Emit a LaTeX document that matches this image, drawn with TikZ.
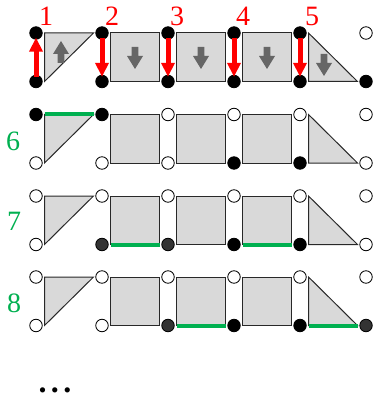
\documentclass[tikz,border=0pt]{standalone}
\usepackage{fontspec}
\setmainfont{Liberation Serif}
\newfontfamily\lblfont{Liberation Serif}
\usetikzlibrary{arrows.meta}
\definecolor{shapefill}{RGB}{217,217,217}
\definecolor{shapeline}{RGB}{40,40,40}
\definecolor{arrowgray}{RGB}{102,102,102}
\definecolor{lblred}{RGB}{255,0,0}
\definecolor{lblgreen}{RGB}{0,176,80}
\definecolor{dotgray}{RGB}{51,51,51}
\tikzset{
  dotb/.style={circle,draw=black,line width=0.8pt,fill=black,minimum size=12.5pt,inner sep=0pt},
  dotw/.style={circle,draw=black,line width=0.8pt,fill=white,minimum size=12.5pt,inner sep=0pt},
  dotg/.style={circle,draw=black,line width=0.8pt,fill=dotgray,minimum size=12.5pt,inner sep=0pt},
  piece/.style={draw=shapeline,line width=1pt,fill=shapefill},
  redarr/.style={draw=lblred,line width=5pt,-{Triangle[length=14pt,width=13pt]},shorten >=-2pt,shorten <=-2pt},
  greenseg/.style={draw=lblgreen,line width=4pt},
  redlbl/.style={text=lblred,font=\lblfont\fontsize{28}{28}\selectfont,inner sep=0pt},
  greenlbl/.style={text=lblgreen,font=\lblfont\fontsize{28}{28}\selectfont,inner sep=0pt},
  graydown/.pic={\fill[arrowgray] (-3.3,0) -- (3.3,0) -- (3.3,9) -- (8,9) -- (0,22) -- (-8,9) -- (-3.3,9) -- cycle;}
}
\begin{document}
\begin{tikzpicture}[x=1pt,y=-1pt]
\useasboundingbox (0,0) rectangle (374,398);
% ---------- shapes ----------
\foreach \t in {33,114.5,196,277}{
  \pgfmathsetmacro{\b}{\t+48.5}
  \filldraw[piece] (44.5,\t) -- (93.5,\t) -- (44.5,\b) -- cycle;
  \filldraw[piece] (110.5,\t) rectangle (159.5,\b);
  \filldraw[piece] (176.5,\t) rectangle (225.5,\b);
  \filldraw[piece] (242.5,\t) rectangle (291.5,\b);
  \filldraw[piece] (308.5,\t) -- (308.5,\b) -- (357.5,\b) -- cycle;
}
% ---------- gray arrows in row 1 ----------
\pic[rotate=180] at (61,63) {graydown};
\pic at (135,47) {graydown};
\pic at (201,47) {graydown};
\pic at (267,47) {graydown};
\pic at (324,54) {graydown};
% ---------- green segments ----------
\draw[greenseg] (44.5,114.5) -- (93.5,114.5);
\draw[greenseg] (110.5,245) -- (159.5,245);
\draw[greenseg] (242.5,245) -- (291.5,245);
\draw[greenseg] (176.5,325.5) -- (225.5,325.5);
\draw[greenseg] (308.5,325.5) -- (357.5,325.5);
% ---------- row 1 dots ----------
\node[dotb] (a1t) at (36,33) {};   \node[dotb] (a1b) at (36,81.5) {};
\node[dotb] (a2t) at (102,33) {};  \node[dotb] (a2b) at (102,81.5) {};
\node[dotb] (a3t) at (168,33) {};  \node[dotb] (a3b) at (168,81.5) {};
\node[dotb] (a4t) at (234,33) {};  \node[dotb] (a4b) at (234,81.5) {};
\node[dotb] (a5t) at (300,33) {};  \node[dotb] (a5b) at (300,81.5) {};
\node[dotw] (a6t) at (366,33) {};  \node[dotb] (a6b) at (366,81.5) {};
% ---------- row 6 dots ----------
\node[dotb] (b1t) at (36,114.5) {};  \node[dotw] (b1b) at (36,163) {};
\node[dotb] (b2t) at (102,114.5) {}; \node[dotw] (b2b) at (102,163) {};
\node[dotw] (b3t) at (168,114.5) {}; \node[dotw] (b3b) at (168,163) {};
\node[dotw] (b4t) at (234,114.5) {}; \node[dotb] (b4b) at (234,163) {};
\node[dotw] (b5t) at (300,114.5) {}; \node[dotb] (b5b) at (300,163) {};
\node[dotw] (b6t) at (366,114.5) {}; \node[dotw] (b6b) at (366,163) {};
% ---------- row 7 dots ----------
\node[dotw] (c1t) at (36,196) {};  \node[dotw] (c1b) at (36,244.5) {};
\node[dotw] (c2t) at (102,196) {}; \node[dotg] (c2b) at (102,244.5) {};
\node[dotw] (c3t) at (168,196) {}; \node[dotg] (c3b) at (168,244.5) {};
\node[dotw] (c4t) at (234,196) {}; \node[dotb] (c4b) at (234,244.5) {};
\node[dotw] (c5t) at (300,196) {}; \node[dotb] (c5b) at (300,244.5) {};
\node[dotw] (c6t) at (366,196) {}; \node[dotw] (c6b) at (366,244.5) {};
% ---------- row 8 dots ----------
\node[dotw] (d1t) at (36,277) {};  \node[dotw] (d1b) at (36,325.5) {};
\node[dotw] (d2t) at (102,277) {}; \node[dotw] (d2b) at (102,325.5) {};
\node[dotw] (d3t) at (168,277) {}; \node[dotg] (d3b) at (168,325.5) {};
\node[dotw] (d4t) at (234,277) {}; \node[dotb] (d4b) at (234,325.5) {};
\node[dotw] (d5t) at (300,277) {}; \node[dotb] (d5b) at (300,325.5) {};
\node[dotw] (d6t) at (366,277) {}; \node[dotg] (d6b) at (366,325.5) {};
% ---------- red arrows ----------
\draw[redarr] (a1b) -- (a1t);
\draw[redarr] (a2t) -- (a2b);
\draw[redarr] (a3t) -- (a3b);
\draw[redarr] (a4t) -- (a4b);
\draw[redarr] (a5t) -- (a5b);
% ---------- labels ----------
\node[redlbl] (l1) at (46,16) {1};
\node[redlbl] (l2) at (112,16) {2};
\node[redlbl] (l3) at (177,16) {3};
\node[redlbl] (l4) at (243,16) {4};
\node[redlbl] (l5) at (312,16) {5};
\node[greenlbl] (l6) at (13,141) {6};
\node[greenlbl] (l7) at (14,221) {7};
\node[greenlbl] (l8) at (14,303) {8};
\node[anchor=base,inner sep=0pt,font=\lblfont\fontsize{32}{32}\selectfont\bfseries] (dots) at (55,392) {.\hspace{4.5pt}.\hspace{4.5pt}.};
\end{tikzpicture}
\end{document}
